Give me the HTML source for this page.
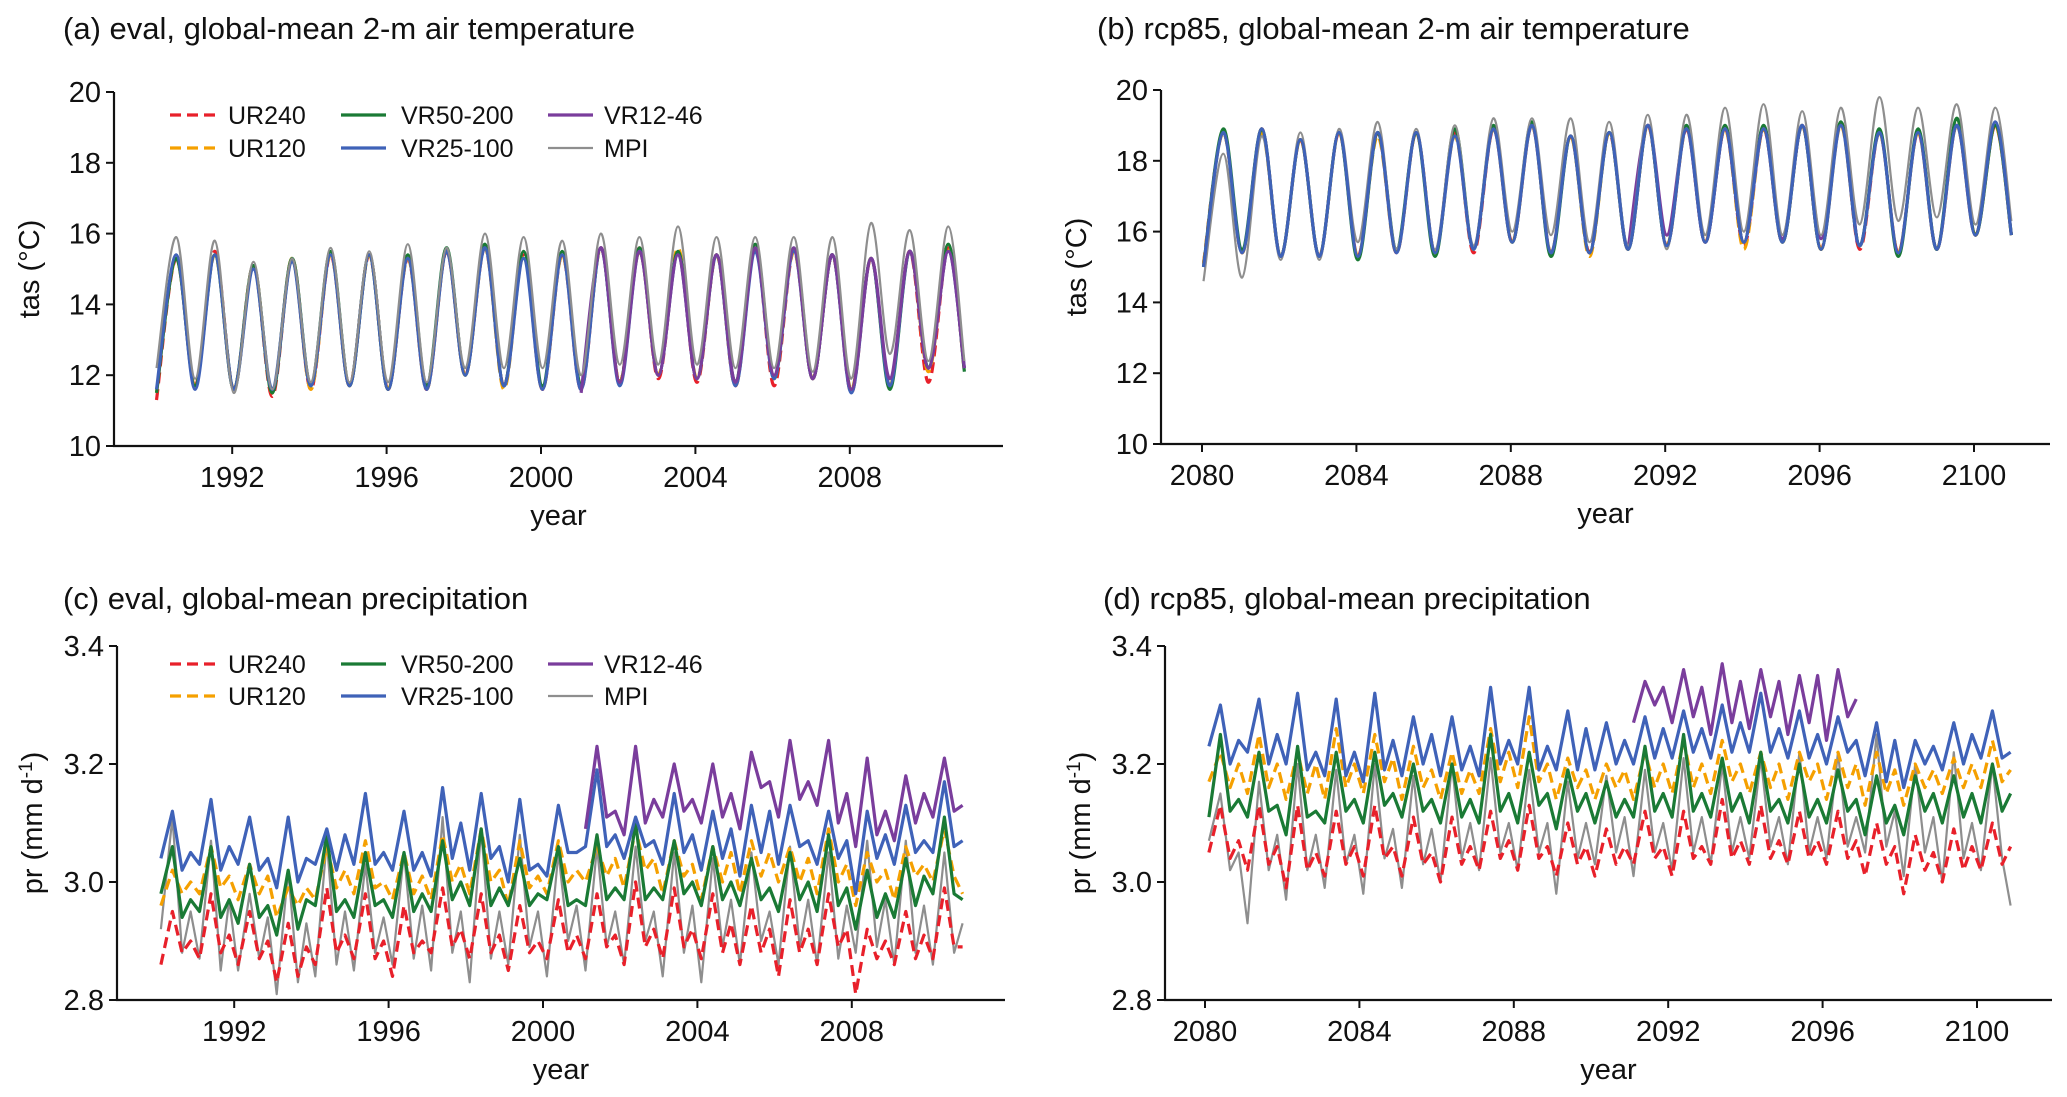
<!DOCTYPE html>
<html><head><meta charset="utf-8">
<style>
html,body{margin:0;padding:0;background:#fff;}
svg{display:block;font-family:"Liberation Sans",sans-serif;}
</style></head>
<body>
<svg id="fig" width="2067" height="1097" viewBox="0 0 2067 1097" xmlns="http://www.w3.org/2000/svg"></svg>
<script>
// ---------------- DATA ----------------
const yearsA = [1990,1991,1992,1993,1994,1995,1996,1997,1998,1999,2000,2001,2002,2003,2004,2005,2006,2007,2008,2009,2010];
const yearsB = [2080,2081,2082,2083,2084,2085,2086,2087,2088,2089,2090,2091,2092,2093,2094,2095,2096,2097,2098,2099,2100];
const tempTicks = [10,12,14,16,18,20];
const prTicks = [2.8,3.0,3.2,3.4];
const xTicksA = [1992,1996,2000,2004,2008];
const xTicksB = [2080,2084,2088,2092,2096,2100];

const tasA_red_peak = [15.3,15.5,15.1,15.3,15.4,15.4,15.3,15.5,15.6,15.4,15.4,15.6,15.6,15.5,15.4,15.6,15.5,15.4,15.3,15.5,15.6];
const tasA_red_trough = [11.3,11.7,11.6,11.4,11.6,11.7,11.6,11.6,12.0,11.7,11.6,11.6,11.8,11.9,11.8,11.7,11.7,11.9,11.5,11.7,11.8,12.1];
const tasA_orange_peak = [15.3,15.4,15.1,15.3,15.4,15.4,15.3,15.5,15.6,15.4,15.4,15.6,15.5,15.6,15.4,15.6,15.5,15.4,15.3,15.5,15.6];
const tasA_orange_trough = [11.5,11.7,11.6,11.5,11.6,11.7,11.6,11.6,12.0,11.6,11.6,11.7,11.8,12.0,11.9,11.7,11.9,11.9,11.6,11.7,12.1,12.2];
const tasA_green_peak = [15.3,15.4,15.1,15.3,15.5,15.4,15.4,15.6,15.7,15.5,15.5,15.6,15.6,15.5,15.4,15.7,15.6,15.4,15.3,15.5,15.7];
const tasA_green_trough = [11.5,11.7,11.6,11.5,11.7,11.7,11.6,11.7,12.0,11.7,11.7,11.7,11.8,12.0,11.9,11.8,11.9,11.9,11.6,11.6,12.2,12.1];
const tasA_blue_peak = [15.4,15.4,15.0,15.2,15.4,15.4,15.3,15.5,15.6,15.3,15.4,15.6,15.5,15.4,15.4,15.5,15.5,15.4,15.3,15.5,15.5];
const tasA_blue_trough = [11.6,11.6,11.6,11.6,11.7,11.7,11.6,11.6,12.0,11.7,11.6,11.6,11.7,12.0,11.9,11.7,11.9,11.9,11.5,11.7,12.2,12.2];
const tasA_purple_peak = [15.6,15.5,15.4,15.4,15.6,15.6,15.4,15.3,15.5,15.5];
const tasA_purple_trough = [11.5,11.8,12.0,11.9,11.8,12.0,11.9,11.6,11.9,12.2,12.2];
const tasA_mpi_peak = [15.9,15.8,15.2,15.3,15.6,15.5,15.7,15.6,16.0,15.9,15.8,16.0,15.9,16.2,15.9,15.9,15.9,15.9,16.3,16.1,16.2];
const tasA_mpi_trough = [12.2,11.9,11.5,11.6,11.8,11.8,11.8,11.8,12.2,12.2,12.2,12.0,12.3,12.3,12.3,12.2,12.2,12.1,11.9,12.6,12.4,12.4];

const tasB_red_peak = [18.8,18.9,18.6,18.8,18.8,18.8,18.8,18.9,19.0,18.7,18.8,19.0,18.9,18.9,18.9,19.0,19.1,18.8,18.8,19.0,19.0];
const tasB_red_trough = [15.1,15.4,15.3,15.3,15.3,15.4,15.4,15.4,15.7,15.4,15.4,15.5,15.6,15.7,15.6,15.7,15.5,15.5,15.4,15.5,15.9,15.9];
const tasB_orange_peak = [18.8,18.8,18.6,18.8,18.7,18.8,18.7,18.9,19.0,18.7,18.8,19.0,18.9,18.9,18.9,19.0,19.0,18.8,18.8,19.0,19.0];
const tasB_orange_trough = [15.1,15.4,15.3,15.3,15.3,15.4,15.4,15.5,15.7,15.4,15.3,15.5,15.6,15.7,15.5,15.7,15.5,15.6,15.4,15.5,15.9,15.9];
const tasB_green_peak = [18.9,18.9,18.6,18.8,18.8,18.8,18.9,19.0,19.1,18.7,18.8,19.0,19.0,19.0,19.0,19.0,19.1,18.9,18.9,19.2,19.0];
const tasB_green_trough = [15.0,15.5,15.3,15.3,15.2,15.5,15.3,15.5,15.7,15.3,15.4,15.5,15.6,15.7,15.7,15.7,15.5,15.6,15.3,15.5,15.9,15.9];
const tasB_blue_peak = [18.8,18.9,18.6,18.8,18.8,18.8,18.7,18.9,19.0,18.7,18.8,19.0,18.9,18.9,18.9,19.0,19.0,18.8,18.8,19.0,19.1];
const tasB_blue_trough = [15.0,15.4,15.3,15.3,15.3,15.4,15.4,15.5,15.7,15.4,15.4,15.5,15.6,15.7,15.7,15.7,15.5,15.6,15.4,15.5,15.9,15.9];
const tasB_purple_peak = [19.0,18.9,18.9,18.9,19.0,19.0];
const tasB_purple_trough = [15.5,15.9,15.7,15.7,15.8,15.8,15.7];
const tasB_mpi_peak = [18.2,18.7,18.8,18.9,19.1,18.9,19.0,19.2,19.2,19.2,19.1,19.3,19.3,19.5,19.6,19.4,19.5,19.8,19.5,19.6,19.5];
const tasB_mpi_trough = [14.6,14.7,15.2,15.2,15.7,15.5,15.5,15.6,16.0,15.9,15.7,15.6,15.5,15.9,16.0,15.9,15.9,16.2,16.3,16.4,16.2,16.3];

const prC_red = [2.86,2.95,2.88,2.90, 2.87,2.98,2.88,2.91, 2.86,2.95,2.87,2.90, 2.83,2.93,2.84,2.89, 2.86,2.99,2.88,2.91, 2.87,2.98,2.87,2.90, 2.84,2.96,2.88,2.90, 2.88,2.99,2.89,2.92, 2.87,2.98,2.88,2.91, 2.85,2.96,2.88,2.90, 2.87,2.97,2.88,2.91, 2.87,2.98,2.89,2.91, 2.86,3.00,2.89,2.92, 2.87,2.99,2.89,2.92, 2.87,2.98,2.88,2.93, 2.86,2.96,2.88,2.92, 2.84,2.97,2.88,2.92, 2.86,2.98,2.89,2.92, 2.81,2.92,2.87,2.90, 2.86,2.95,2.87,2.91, 2.87,2.99,2.89,2.89];
const prC_orange = [2.96,3.02,2.98,3.00, 2.98,3.06,2.99,3.01, 2.97,3.03,2.98,3.01, 2.94,2.99,2.96,2.99, 2.97,3.06,2.99,3.02, 2.98,3.07,2.99,3.00, 2.97,3.05,2.98,3.01, 2.97,3.08,3.00,3.03, 2.98,3.09,3.00,3.02, 2.96,3.07,2.99,3.01, 2.98,3.07,3.00,3.02, 3.00,3.06,3.01,3.04, 2.99,3.09,3.02,3.04, 2.98,3.07,3.01,3.03, 2.97,3.06,3.00,3.05, 2.98,3.07,3.01,3.05, 3.00,3.06,3.00,3.04, 2.98,3.09,3.00,3.03, 2.96,3.05,3.00,3.02, 2.97,3.06,3.01,3.03, 3.00,3.09,3.01,2.98];
const prC_green = [2.98,3.06,2.94,2.97, 2.95,3.06,2.94,2.97, 2.93,3.03,2.94,2.96, 2.91,3.02,2.92,2.97, 2.96,3.08,2.95,2.97, 2.94,3.05,2.96,2.97, 2.94,3.05,2.95,2.98, 2.95,3.07,2.97,3.00, 2.96,3.09,2.96,2.99, 2.96,3.04,2.96,2.98, 2.97,3.06,2.96,2.97, 2.96,3.08,2.97,2.99, 2.97,3.10,2.97,2.99, 2.97,3.07,2.98,3.00, 2.96,3.06,2.97,3.00, 2.96,3.04,2.97,2.99, 2.95,3.05,2.97,3.00, 2.95,3.08,2.96,2.99, 2.92,3.02,2.94,2.98, 2.94,3.04,2.96,3.01, 2.98,3.11,2.98,2.97];
const prC_blue = [3.04,3.12,3.02,3.05, 3.03,3.14,3.02,3.06, 3.03,3.11,3.02,3.04, 2.99,3.11,3.00,3.04, 3.03,3.09,3.02,3.08, 3.03,3.15,3.03,3.05, 3.02,3.12,3.02,3.05, 3.01,3.16,3.04,3.10, 3.02,3.15,3.04,3.06, 3.00,3.14,3.02,3.03, 3.01,3.13,3.05,3.05, 3.06,3.19,3.06,3.08, 3.04,3.11,3.06,3.07, 3.03,3.15,3.05,3.08, 3.02,3.12,3.04,3.09, 3.01,3.13,3.05,3.12, 3.03,3.13,3.06,3.07, 3.03,3.12,3.04,3.07, 2.98,3.12,3.04,3.08, 3.03,3.13,3.05,3.07, 3.05,3.17,3.06,3.07];
const prC_purple = [3.09,3.23,3.11,3.12, 3.08,3.23,3.10,3.14, 3.11,3.20,3.12,3.14, 3.10,3.20,3.11,3.15, 3.09,3.22,3.16,3.17, 3.11,3.24,3.14,3.17, 3.13,3.24,3.10,3.15, 3.06,3.21,3.08,3.12, 3.07,3.18,3.10,3.15, 3.11,3.21,3.12,3.13];
const prC_mpi = [2.92,3.11,2.88,2.95, 2.87,3.07,2.85,2.97, 2.85,2.98,2.87,2.94, 2.81,3.02,2.83,2.93, 2.84,3.07,2.86,2.95, 2.85,3.03,2.88,2.94, 2.86,3.05,2.87,2.96, 2.85,3.11,2.88,2.95, 2.83,3.09,2.87,2.95, 2.86,3.08,2.89,2.95, 2.84,3.05,2.90,2.96, 2.85,3.06,2.89,2.95, 2.86,3.06,2.90,2.95, 2.84,3.05,2.88,2.96, 2.83,3.04,2.89,2.97, 2.86,3.05,2.90,2.95, 2.86,3.06,2.89,2.97, 2.86,3.05,2.87,2.96, 2.88,3.07,2.89,2.97, 2.86,3.07,2.88,2.96, 2.86,3.05,2.88,2.93];

const prD_red = [3.05,3.13,3.04,3.07, 3.02,3.13,3.03,3.06, 2.99,3.13,3.02,3.05, 3.01,3.12,3.03,3.06, 3.01,3.13,3.04,3.06, 3.01,3.11,3.03,3.05, 3.00,3.11,3.03,3.06, 3.02,3.12,3.04,3.07, 3.02,3.13,3.04,3.06, 3.01,3.10,3.03,3.06, 3.01,3.09,3.03,3.06, 3.03,3.12,3.04,3.06, 3.01,3.12,3.04,3.06, 3.03,3.14,3.04,3.07, 3.03,3.13,3.04,3.07, 3.03,3.12,3.04,3.07, 3.03,3.12,3.04,3.07, 3.01,3.10,3.03,3.06, 2.98,3.08,3.02,3.05, 3.00,3.09,3.02,3.06, 3.02,3.10,3.03,3.06];
const prD_orange = [3.17,3.22,3.16,3.20, 3.15,3.25,3.16,3.20, 3.14,3.22,3.15,3.20, 3.14,3.26,3.16,3.20, 3.15,3.25,3.17,3.21, 3.14,3.23,3.16,3.19, 3.14,3.22,3.15,3.19, 3.15,3.26,3.17,3.22, 3.16,3.28,3.17,3.20, 3.14,3.21,3.16,3.19, 3.14,3.20,3.16,3.19, 3.14,3.22,3.16,3.20, 3.15,3.24,3.16,3.20, 3.15,3.24,3.17,3.20, 3.15,3.22,3.16,3.20, 3.14,3.22,3.17,3.20, 3.14,3.22,3.16,3.20, 3.13,3.22,3.15,3.19, 3.13,3.20,3.16,3.19, 3.15,3.21,3.16,3.20, 3.16,3.24,3.17,3.19];
const prD_green = [3.11,3.25,3.12,3.14, 3.11,3.22,3.12,3.13, 3.08,3.23,3.11,3.12, 3.10,3.22,3.12,3.14, 3.10,3.22,3.13,3.15, 3.11,3.20,3.12,3.14, 3.10,3.20,3.11,3.14, 3.10,3.25,3.12,3.15, 3.10,3.22,3.13,3.15, 3.09,3.19,3.12,3.15, 3.10,3.17,3.11,3.14, 3.11,3.23,3.12,3.15, 3.11,3.25,3.12,3.15, 3.11,3.21,3.12,3.15, 3.10,3.22,3.12,3.14, 3.10,3.20,3.11,3.14, 3.10,3.19,3.12,3.14, 3.08,3.18,3.10,3.13, 3.08,3.18,3.12,3.15, 3.10,3.18,3.11,3.15, 3.10,3.20,3.12,3.15];
const prD_blue = [3.23,3.30,3.20,3.24, 3.22,3.31,3.20,3.25, 3.20,3.32,3.19,3.22, 3.18,3.31,3.18,3.22, 3.17,3.32,3.19,3.24, 3.18,3.28,3.20,3.25, 3.18,3.28,3.19,3.23, 3.18,3.33,3.20,3.24, 3.20,3.33,3.19,3.23, 3.19,3.29,3.19,3.26, 3.19,3.27,3.20,3.24, 3.20,3.28,3.21,3.26, 3.21,3.29,3.22,3.26, 3.21,3.30,3.22,3.27, 3.22,3.32,3.22,3.26, 3.21,3.29,3.21,3.25, 3.20,3.28,3.22,3.24, 3.18,3.27,3.17,3.24, 3.16,3.24,3.20,3.23, 3.19,3.27,3.20,3.25, 3.21,3.29,3.21,3.22];
const prD_purple = [3.27,3.34,3.30,3.33, 3.27,3.36,3.28,3.33, 3.25,3.37,3.27,3.34, 3.26,3.36,3.28,3.34, 3.25,3.35,3.27,3.35, 3.24,3.36,3.28,3.31];
const prD_mpi = [3.07,3.15,3.02,3.05, 2.93,3.17,3.02,3.08, 2.97,3.20,3.02,3.08, 2.99,3.19,3.03,3.08, 2.98,3.20,3.04,3.09, 2.99,3.18,3.03,3.09, 3.00,3.20,3.04,3.10, 3.02,3.21,3.05,3.10, 3.02,3.19,3.05,3.10, 2.98,3.17,3.04,3.10, 3.03,3.18,3.05,3.11, 3.01,3.19,3.05,3.10, 3.02,3.21,3.05,3.11, 3.03,3.20,3.05,3.11, 3.04,3.21,3.06,3.11, 3.03,3.22,3.05,3.11, 3.04,3.22,3.06,3.11, 3.05,3.25,3.06,3.12, 3.01,3.20,3.05,3.11, 3.00,3.22,3.04,3.10, 3.02,3.20,3.04,2.96];

// ---------------- DRAWING ----------------
const NS = "http://www.w3.org/2000/svg";
const svg = document.getElementById('fig');
const COL = {red:'#e8202a', orange:'#f5a000', green:'#1a7a35', blue:'#3f62b8', purple:'#7a3d9c', mpi:'#8e8e8e'};
const STY = {
  red:{w:3.2,dash:'11 6'}, orange:{w:3.2,dash:'11 6'}, green:{w:3.2}, blue:{w:3.2}, purple:{w:3.2}, mpi:{w:2.2}
};
function el(tag, attrs, parent){ const e=document.createElementNS(NS,tag); for(const k in attrs) e.setAttribute(k,attrs[k]); (parent||svg).appendChild(e); return e; }
function txt(s, attrs, parent){ const t=el('text',attrs,parent); t.textContent=s; return t; }

function makePanel(p){
  const g = el('g',{});
  
  
  const xs = y => p.x0 + (y - p.yr0) * p.ppy;
  const ys = v => p.yTop + (p.vmax - v) / (p.vmax - p.vmin) * (p.yBot - p.yTop);
  p.xs = xs; p.ys = ys;
  const t = txt(p.title,{x:p.titleX,y:p.titleY,'font-size':31,fill:'#111'},g);
  
  
  const sp = el('path',{d:`M${p.left},${p.yTop} V${p.yBot} H${p.right}`,stroke:'#111','stroke-width':2.2,fill:'none'},g);
  
  
  p.yTicks.forEach(v=>{
    const y=ys(v);
    el('line',{x1:p.left-8,x2:p.left,y1:y,y2:y,stroke:'#111','stroke-width':2},g);
    const l = txt(p.fmt(v),{x:p.left-13,y:y+10,'text-anchor':'end','font-size':29,fill:'#111'},g);
    
    
  });
  p.xTicks.forEach(v=>{
    const x=xs(v);
    el('line',{x1:x,x2:x,y1:p.yBot,y2:p.yBot+8,stroke:'#111','stroke-width':2},g);
    const l = txt(String(v),{x:x,y:p.yBot+41,'text-anchor':'middle','font-size':29,fill:'#111'},g);
    
    
  });
  const xl = txt('year',{x:(p.left+p.right)/2,y:p.yBot+79,'text-anchor':'middle','font-size':29,fill:'#111'},g);
  
  
  const cy=(p.yTop+p.yBot)/2;
  const yl = el('text',{x:0,y:0,transform:`translate(${p.left-75},${cy}) rotate(-90)`,'text-anchor':'middle','font-size':29,fill:'#111'},g);
  
  
  if(p.ylabSup){ yl.textContent=p.ylab; const ts=el('tspan',{dy:-10,'font-size':19},yl); ts.textContent=p.ylabSup; const ts2=el('tspan',{dy:10},yl); ts2.textContent=')'; }
  else yl.textContent=p.ylab;
  p.g=g;
  return p;
}

function smoothPath(pts){
  let d=`M${pts[0][0].toFixed(1)},${pts[0][1].toFixed(1)}`;
  for(let i=0;i<pts.length-1;i++){
    const p0=pts[Math.max(0,i-1)],p1=pts[i],p2=pts[i+1],p3=pts[Math.min(pts.length-1,i+2)];
    const c1=[p1[0]+(p2[0]-p0[0])/6,p1[1]+(p2[1]-p0[1])/6];
    const c2=[p2[0]-(p3[0]-p1[0])/6,p2[1]-(p3[1]-p1[1])/6];
    d+=` C${c1[0].toFixed(1)},${c1[1].toFixed(1)} ${c2[0].toFixed(1)},${c2[1].toFixed(1)} ${p2[0].toFixed(1)},${p2[1].toFixed(1)}`;
  }
  return d;
}

function drawTemp(p, key, startYear, peaks, troughs){
  const pts=[];
  for(let i=0;i<peaks.length;i++){
    pts.push([p.xs(startYear+i+0.04), p.ys(troughs[i])]);
    pts.push([p.xs(startYear+i+0.55), p.ys(peaks[i])]);
  }
  pts.push([p.xs(startYear+peaks.length-0.03), p.ys(troughs[peaks.length])]);
  const s=STY[key];
  const path=el('path',{d:smoothPath(pts),stroke:COL[key],'stroke-width':s.w,fill:'none','stroke-linejoin':'round'},p.g);
  if(s.dash) path.setAttribute('stroke-dasharray',s.dash);
  
  
}

const OFFS=[0.1,0.4,0.65,0.87];
function drawPr(p, key, startYear, vals){
  const pts=vals.map((v,i)=>[p.xs(startYear+Math.floor(i/4)+OFFS[i%4]), p.ys(v)]);
  const d='M'+pts.map(q=>q[0].toFixed(1)+','+q[1].toFixed(1)).join(' L');
  const s=STY[key];
  const path=el('path',{d:d,stroke:COL[key],'stroke-width':s.w,fill:'none','stroke-linejoin':'round'},p.g);
  if(s.dash) path.setAttribute('stroke-dasharray',s.dash);
  
  
}

function legend(p, rows){
  const lg = el('g',{},p.g);
  
  
  const cols=[[170,228],[341,401],[548,604]];
  const items=[['red','UR240',0,0],['orange','UR120',0,1],['green','VR50-200',1,0],['blue','VR25-100',1,1],['purple','VR12-46',2,0],['mpi','MPI',2,1]];
  items.forEach(it=>{
    const [k,label,c,r]=it; const y=rows[r];
    const ln=el('line',{x1:cols[c][0],x2:cols[c][0]+45,y1:y,y2:y,stroke:COL[k],'stroke-width':STY[k].w},lg);
    if(STY[k].dash) ln.setAttribute('stroke-dasharray','11 6');
    
    
    const t=txt(label,{x:cols[c][1],y:y+9,'font-size':25,fill:'#111'},lg);
    
    
  });
}

const fmtInt=v=>String(v), fmt1=v=>v.toFixed(1);
const A=makePanel({name:'panel-a-eval-tas',title:'(a) eval, global-mean 2-m air temperature',titleX:63,titleY:39,
  left:114,right:1003,yTop:92,yBot:446,vmin:10,vmax:20,x0:155,yr0:1990,ppy:38.6,yTicks:tempTicks,xTicks:xTicksA,fmt:fmtInt,ylab:'tas (°C)'});
const B=makePanel({name:'panel-b-rcp85-tas',title:'(b) rcp85, global-mean 2-m air temperature',titleX:1097,titleY:39,
  left:1161,right:2050,yTop:90,yBot:444,vmin:10,vmax:20,x0:1202,yr0:2080,ppy:38.6,yTicks:tempTicks,xTicks:xTicksB,fmt:fmtInt,ylab:'tas (°C)'});
const C=makePanel({name:'panel-c-eval-pr',title:'(c) eval, global-mean precipitation',titleX:63,titleY:609,
  left:117,right:1005,yTop:646,yBot:1000,vmin:2.8,vmax:3.4,x0:157,yr0:1990,ppy:38.6,yTicks:prTicks,xTicks:xTicksA,fmt:fmt1,ylab:'pr (mm d',ylabSup:'-1'});
const D=makePanel({name:'panel-d-rcp85-pr',title:'(d) rcp85, global-mean precipitation',titleX:1103,titleY:609,
  left:1165,right:2052,yTop:646,yBot:1000,vmin:2.8,vmax:3.4,x0:1205,yr0:2080,ppy:38.6,yTicks:prTicks,xTicks:xTicksB,fmt:fmt1,ylab:'pr (mm d',ylabSup:'-1'});

drawTemp(A,'red',1990,tasA_red_peak,tasA_red_trough);
drawTemp(A,'orange',1990,tasA_orange_peak,tasA_orange_trough);
drawTemp(A,'green',1990,tasA_green_peak,tasA_green_trough);
drawTemp(A,'blue',1990,tasA_blue_peak,tasA_blue_trough);
drawTemp(A,'purple',2001,tasA_purple_peak,tasA_purple_trough);
drawTemp(A,'mpi',1990,tasA_mpi_peak,tasA_mpi_trough);

drawTemp(B,'red',2080,tasB_red_peak,tasB_red_trough);
drawTemp(B,'orange',2080,tasB_orange_peak,tasB_orange_trough);
drawTemp(B,'green',2080,tasB_green_peak,tasB_green_trough);
drawTemp(B,'purple',2091,tasB_purple_peak,tasB_purple_trough);
drawTemp(B,'mpi',2080,tasB_mpi_peak,tasB_mpi_trough);
drawTemp(B,'blue',2080,tasB_blue_peak,tasB_blue_trough);

drawPr(C,'mpi',1990,prC_mpi);
drawPr(C,'red',1990,prC_red);
drawPr(C,'orange',1990,prC_orange);
drawPr(C,'green',1990,prC_green);
drawPr(C,'blue',1990,prC_blue);
drawPr(C,'purple',2001,prC_purple);

drawPr(D,'mpi',2080,prD_mpi);
drawPr(D,'red',2080,prD_red);
drawPr(D,'orange',2080,prD_orange);
drawPr(D,'green',2080,prD_green);
drawPr(D,'blue',2080,prD_blue);
drawPr(D,'purple',2091,prD_purple);

legend(A,[115,148]);
legend(C,[664,696]);
</script>
</body></html>
